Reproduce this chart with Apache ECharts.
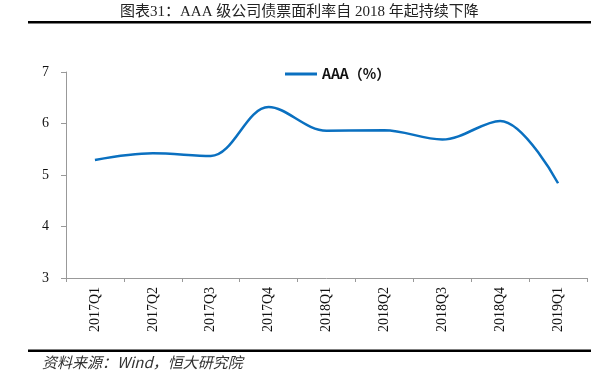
<!DOCTYPE html>
<html><head><meta charset="utf-8">
<script src="https://cdn.jsdelivr.net/npm/echarts@6/dist/echarts.min.js"></script>
<style>html,body{margin:0;padding:0;background:#fff}#c{width:602px;height:380px}</style>
</head><body><div id="c"></div>
<script>
var categories = ['2017Q1','2017Q2','2017Q3','2017Q4','2018Q1','2018Q2','2018Q3','2018Q4','2019Q1'];
var aaaValues = [5.29, 5.42, 5.37, 6.32, 5.86, 5.87, 5.69, 6.05, 4.84];
var seriesName = 'AAA（%）';
var yTicks = [3, 4, 5, 6, 7];

var chart = echarts.init(document.getElementById('c'));
var serif = '"Liberation Serif", "Noto Sans CJK SC", serif';
chart.setOption({
  animation: false,
  backgroundColor: '#fff',
  title: {
    text: '图表31：AAA 级公司债票面利率自 2018 年起持续下降',
    left: 115, top: 0,
    textStyle: { fontFamily: '"Liberation Serif", "Noto Sans CJK SC", serif', fontSize: 15, fontWeight: 'normal', color: '#222' }
  },
  graphic: [
    { type: 'rect', shape: { x: 28, y: 21, width: 563, height: 2.5 }, style: { fill: '#000' } },
    { type: 'rect', shape: { x: 28, y: 349.5, width: 563, height: 2.5 }, style: { fill: '#000' } },
    { type: 'text', left: 42, top: 355, style: { text: '资料来源：Wind，恒大研究院', font: 'italic 15px "Noto Sans CJK SC", sans-serif', fill: '#333' } }
  ],
  legend: {
    data: [seriesName], left: 280, top: 62, itemWidth: 32, itemHeight: 3, itemGap: 3,
    icon: 'rect',
    textStyle: { fontFamily: '"Noto Sans CJK SC", sans-serif', fontWeight: 'bold', fontSize: 14, color: '#111' }
  },
  grid: { left: 66, right: 15, top: 72, bottom: 102, containLabel: false },
  xAxis: {
    type: 'category', data: categories, boundaryGap: true,
    axisLine: { lineStyle: { color: '#999' } },
    axisTick: { show: true, length: 4, lineStyle: { color: '#999' } },
    axisLabel: { rotate: 90, color: '#111', fontFamily: serif, fontSize: 14, margin: 9 }
  },
  yAxis: {
    type: 'value', min: yTicks[0], max: yTicks[yTicks.length - 1], interval: 1,
    axisLine: { show: true, lineStyle: { color: '#999' } },
    axisTick: { show: true, length: 5, inside: false, lineStyle: { color: '#999' } },
    splitLine: { show: false },
    axisLabel: { color: '#111', fontFamily: serif, fontSize: 14, margin: 17 }
  },
  series: [{
    name: seriesName, type: 'line', data: aaaValues, smooth: 0.35,
    showSymbol: false, symbol: 'none',
    lineStyle: { color: '#0a70c0', width: 2.5 },
    itemStyle: { color: '#0a70c0' }
  }]
});
</script></body></html>
